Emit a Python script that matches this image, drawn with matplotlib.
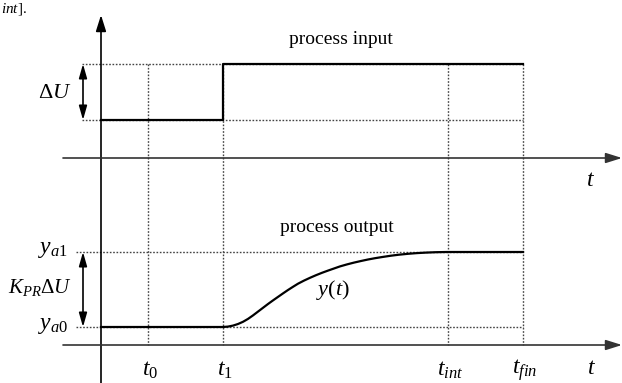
import numpy as np
import matplotlib.pyplot as plt

plt.rcParams['font.family'] = ['Liberation Serif', 'DejaVu Serif']
plt.rcParams['mathtext.fontset'] = 'custom'
plt.rcParams['mathtext.rm'] = 'Liberation Serif'
plt.rcParams['mathtext.it'] = 'Liberation Serif:italic'
plt.rcParams['mathtext.bf'] = 'Liberation Serif:bold'

# drawing space: pixels of the 622x383 sketch (y grows downwards)
origin_x = 101
axis_top = 15
axis_input_y = 158
axis_output_y = 345

# time marks
time_labels = [r'$t_{\mathit{0}}$', r'$t_{\mathit{1}}$', r'$t_{int}$', r'$t_{fin}$']
time_pos = [148, 223, 448, 523]

# input step levels (low, high)
u_levels = [120, 64]
# output levels (y_a0, y_a1)
y_levels = [327, 252]

curve_x = [223, 228, 233, 238, 243, 248, 253, 258, 263, 268, 273, 278, 283, 288,
           293, 298, 304, 310, 316, 322, 328, 334, 340, 347, 354, 361, 368, 375,
           383, 391, 399, 408, 417, 426, 436, 447]
curve_y = [327.0, 326.6, 325.6, 324.0, 321.8, 318.9, 315.4, 311.6, 307.8, 304.0,
           300.4, 296.9, 293.4, 290.0, 286.8, 283.7, 280.6, 277.8, 275.2, 272.8,
           270.6, 268.5, 266.4, 264.4, 262.6, 261.0, 259.5, 258.2, 256.9, 255.7,
           254.7, 253.8, 253.1, 252.6, 252.2, 252.0]

fig = plt.figure(figsize=(6.22, 3.83), dpi=100)
ax = fig.add_axes([0, 0, 1, 1])
ax.set_xlim(0, 622)
ax.set_ylim(383, 0)
ax.axis('off')

dot = dict(color='#444444', lw=1.0, linestyle=(0, (1.2, 1.2)))
axcol = '#333333'
head = '-|>,head_length=0.7,head_width=0.22'

# dotted guide lines
t0, t1, tint, tfin = time_pos
for tp in time_pos:
    ax.plot([tp, tp], [u_levels[1], axis_output_y], **dot)
for lv in u_levels:
    ax.plot([82, tfin], [lv, lv], **dot)
for lv in y_levels:
    ax.plot([76, tfin], [lv, lv], **dot)

# axes
ax.annotate('', xy=(origin_x, axis_top), xytext=(origin_x, 383),
            arrowprops=dict(arrowstyle=head, lw=1.2, color='black', mutation_scale=14,
                            shrinkA=0, shrinkB=0))
for yy in [axis_input_y, axis_output_y]:
    ax.annotate('', xy=(622, yy), xytext=(63, yy),
                arrowprops=dict(arrowstyle=head, lw=1.2, color=axcol, mutation_scale=14,
                                shrinkA=0, shrinkB=0))

# process input (step)
ax.plot([origin_x, t1, t1, tfin], [u_levels[0], u_levels[0], u_levels[1], u_levels[1]],
        color='black', lw=1.6)

# process output
ox = [origin_x] + curve_x + [tfin]
oy = [y_levels[0]] + curve_y + [y_levels[1]]
ax.plot(ox, oy, color='black', lw=1.6, solid_joinstyle='round')

# double arrows
dbl = '<|-|>,head_length=0.7,head_width=0.2'
ax.annotate('', xy=(83, u_levels[1]), xytext=(83, u_levels[0]),
            arrowprops=dict(arrowstyle=dbl, lw=1.2, color='black', mutation_scale=12,
                            shrinkA=0, shrinkB=0))
ax.annotate('', xy=(83, y_levels[1]), xytext=(83, y_levels[0]),
            arrowprops=dict(arrowstyle=dbl, lw=1.2, color='black', mutation_scale=12,
                            shrinkA=0, shrinkB=0))

# texts
ax.text(341, 40, 'process input', fontsize=14, ha='center', va='center')
ax.text(337, 228, 'process output', fontsize=14, ha='center', va='center')
ax.text(333, 290, r'$y(t)$', fontsize=16, ha='center', va='center')
ax.text(591, 180, r'$t$', fontsize=17, ha='center', va='center')
ax.text(592, 369, r'$t$', fontsize=17, ha='center', va='center')
for lab, tp in zip(time_labels, time_pos):
    ax.text(tp + 2, 370, lab, fontsize=17, ha='center', va='center')
ax.text(72, 94, r'$\Delta U$', fontsize=16, ha='right', va='center')
ax.text(72, 287, r'$K_{PR}\Delta U$', fontsize=15, ha='right', va='center')
ax.text(68, 250, r'$y_{a\mathit{1}}$', fontsize=17, ha='right', va='center')
ax.text(68, 325, r'$y_{a\mathit{0}}$', fontsize=17, ha='right', va='center')
# remnant of the caption above the sketch
ax.text(1, 1, r'$\mathit{int}$].', fontsize=11, ha='left', va='top')

fig.savefig('out.png', dpi=100)
